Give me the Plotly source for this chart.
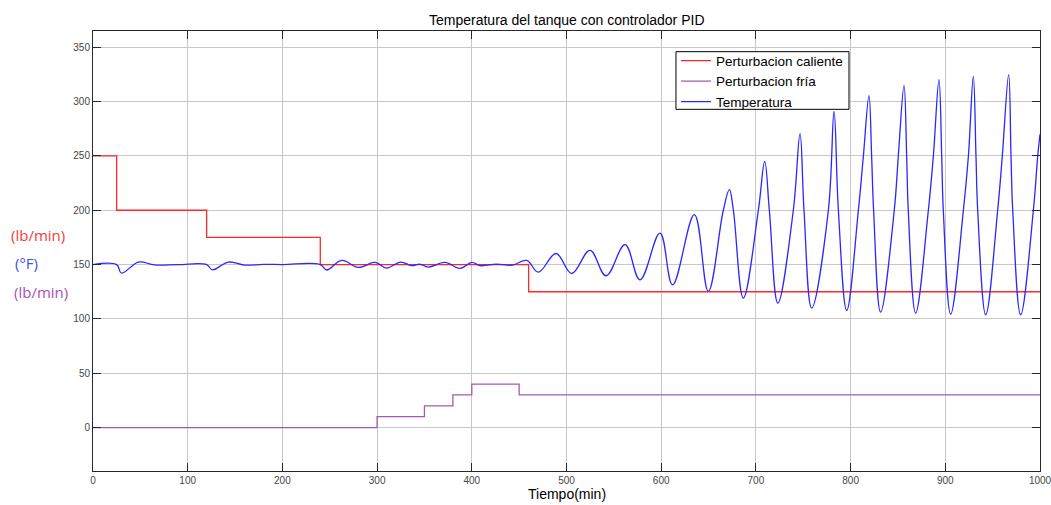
import plotly.graph_objects as go

# Hot disturbance (lb/min): step levels, given at the start time of each step
hot_t = [0, 25, 120, 240, 460, 1000]
hot_v = [250, 200, 175, 150, 125, 125]

# Cold disturbance (lb/min)
cold_t = [0, 300, 350, 380, 400, 450, 1000]
cold_v = [0, 10, 20, 30, 40, 30, 30]

# Tank temperature (°F): turning points and level crossings of the response
temp_t = [0, 25, 30, 48, 65, 90, 120, 126, 143, 160, 180, 200, 240, 246.7,
          262.6, 280, 297.8, 310, 325, 336.5, 345, 354, 371.7, 387.5, 400,
          408.7, 426, 443, 458, 470.2, 489, 505.4, 524.8, 541.7, 561.8, 577.6,
          598.7, 612, 635, 649.7, 665.6, 672, 676.2, 686.7, 702.6,
          709.3, 714.2, 723.2, 739.5, 746.6, 750.8,
          758.9, 776.5, 782.5, 787.1, 795.9, 808.2,
          813.5, 819.4, 822.2, 824.3, 831.7, 846.1, 850.4,
          856.4, 859.2, 860.9, 868.7, 882.1, 887.4, 893.3,
          896.2, 897.9, 905.7, 919.1, 924.4, 929.6, 932.4,
          934.2, 942.7, 955.3, 960.2, 966.9, 969.4, 971.2,
          979.6, 993, 997.6, 1000]
temp_v = [150, 150, 142.2, 152.3, 149.7, 150, 150, 145.2, 152.3, 149.5, 150.2,
          150, 150, 145, 153.8, 147.4, 152, 146.8, 152.3, 149, 150.5, 147.7,
          152, 146.5, 152, 149, 150.5, 149.5, 153.8, 143, 160.2, 141.8, 163,
          139.7, 168.3, 136,
          179, 131.4, 196, 125.3, 200, 219, 200, 119.2, 200,
          245, 200, 114.6, 200, 270.5, 200,
          110, 200, 291, 200, 107.8, 200,
          250, 305.5, 250, 200, 106.3, 200, 250,
          315, 250, 200, 105.3, 200, 250, 320.3,
          250, 200, 104.4, 200, 250, 323.3, 250,
          200, 103.8, 200, 250, 324.9, 250, 200,
          103.8, 200, 250, 270]

x_ticks = list(range(0, 1001, 100))
y_ticks = list(range(0, 351, 50))

RED = "rgb(255,40,40)"
PURPLE = "rgb(160,90,180)"
BLUE = "rgb(40,40,255)"
FONT = "Liberation Sans, Arial, sans-serif"

fig = go.Figure()
fig.add_trace(go.Scatter(x=hot_t, y=hot_v, mode="lines", name="Perturbacion caliente",
                         line=dict(color=RED, width=1.3, shape="hv")))
fig.add_trace(go.Scatter(x=cold_t, y=cold_v, mode="lines", name="Perturbacion fría",
                         line=dict(color=PURPLE, width=1.3, shape="hv")))
fig.add_trace(go.Scatter(x=temp_t, y=temp_v, mode="lines", name="Temperatura",
                         line=dict(color=BLUE, width=1.3, shape="spline", smoothing=1.1)))

axis_common = dict(
    showgrid=True, gridcolor="rgb(200,200,200)", gridwidth=1,
    zeroline=False, showline=True, linecolor="rgb(40,40,40)", linewidth=1,
    mirror="ticks", ticks="inside", ticklen=8, tickcolor="rgb(40,40,40)",
    tickfont=dict(family=FONT, size=10, color="rgb(70,70,70)"),
    ticklabeloverflow="allow", automargin=False,
)

fig.update_xaxes(range=[0, 1000], tickvals=x_ticks, **axis_common)
fig.update_yaxes(range=[-40, 365], tickvals=y_ticks, **axis_common)

fig.update_layout(
    width=1051, height=505,
    margin=dict(l=93, r=11, t=31, b=34, autoexpand=False),
    paper_bgcolor="white", plot_bgcolor="white",
    font=dict(family=FONT),
    legend=dict(x=0.6156, y=0.9675, xanchor="left", yanchor="top",
                bgcolor="rgba(0,0,0,0)", borderwidth=0,
                font=dict(family=FONT, size=13.5, color="black"),
                tracegroupgap=0, itemwidth=30),
    showlegend=True,
    shapes=[
        # legend frame
        dict(type="rect", xref="paper", yref="paper", layer="above",
             x0=0.6156, x1=0.7983, y0=0.822, y1=0.953,
             fillcolor="white", line=dict(color="black", width=1)),
    ],
    annotations=[
        dict(text="Temperatura del tanque con controlador PID", xref="paper", yref="paper",
             x=0.5, y=1.025, xanchor="center", yanchor="middle", showarrow=False,
             font=dict(family=FONT, size=14, color="black")),
        dict(text="Tiempo(min)", xref="paper", yref="paper",
             x=0.5, y=-0.052, xanchor="center", yanchor="middle", showarrow=False,
             font=dict(family=FONT, size=14, color="black")),
        dict(text="(lb/min)", xref="paper", yref="paper",
             x=-0.089, y=0.536, xanchor="left", yanchor="middle", showarrow=False,
             font=dict(family="Open Sans, sans-serif", size=15, color="rgb(240,60,60)")),
        dict(text="(°F)", xref="paper", yref="paper",
             x=-0.084, y=0.4727, xanchor="left", yanchor="middle", showarrow=False,
             font=dict(family="Open Sans, sans-serif", size=15, color="rgb(60,80,230)")),
        dict(text="(lb/min)", xref="paper", yref="paper",
             x=-0.086, y=0.4068, xanchor="left", yanchor="middle", showarrow=False,
             font=dict(family="Open Sans, sans-serif", size=15, color="rgb(170,80,180)")),
    ],
)

fig.write_html("out.html")
